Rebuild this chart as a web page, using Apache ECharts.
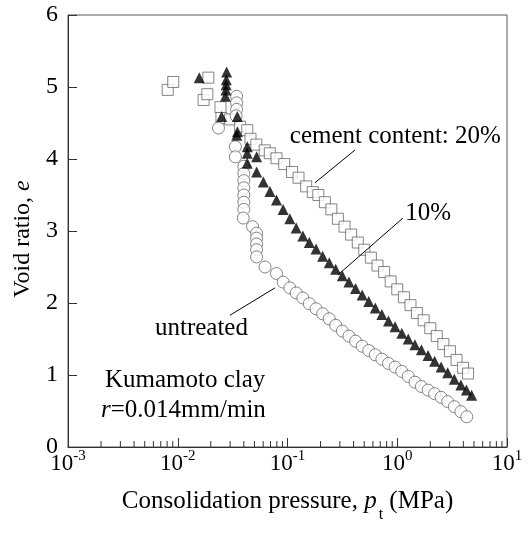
<!DOCTYPE html>
<html>
<head>
<meta charset="utf-8">
<script src="https://cdn.jsdelivr.net/npm/echarts@6/dist/echarts.min.js"></script>
<style>
  html, body { margin: 0; padding: 0; background: #fff; }
  #chart { width: 531px; height: 540px; }
</style>
</head>
<body>
<div id="chart"></div>
<script>
// Void ratio e against consolidation pressure p_t (MPa), Kumamoto clay, constant rate of strain

// cement content 20 %  [p_t (MPa), e]
const cement20 = [
  [0.0081, 4.96], [0.0091, 5.07], [0.0172, 4.82], [0.0186, 4.90], [0.0190, 5.13],
  [0.0245, 4.72], [0.0250, 4.57], [0.0300, 4.55], [0.0370, 4.45], [0.0430, 4.40],
  [0.0460, 4.28], [0.0520, 4.20], [0.0620, 4.12], [0.0690, 4.08],
  [0.0794, 4.01], [0.0933, 3.93], [0.110, 3.82], [0.126, 3.74], [0.148, 3.62],
  [0.170, 3.54], [0.191, 3.50], [0.219, 3.40], [0.251, 3.30], [0.288, 3.17],
  [0.331, 3.06], [0.380, 2.95], [0.437, 2.84], [0.501, 2.74], [0.575, 2.63],
  [0.661, 2.52], [0.759, 2.43], [0.871, 2.30], [1.00, 2.19], [1.15, 2.08],
  [1.32, 1.97], [1.51, 1.86], [1.74, 1.76], [2.00, 1.65], [2.29, 1.54],
  [2.63, 1.43], [3.02, 1.33], [3.47, 1.21], [3.98, 1.10], [4.42, 1.02]
];

// cement content 10 %
const cement10 = [
  [0.0157, 5.13], [0.0279, 5.21], [0.0277, 5.10], [0.0276, 5.03], [0.0275, 4.96],
  [0.0272, 4.87], [0.0251, 4.59], [0.0349, 4.59], [0.0350, 4.38], [0.0345, 4.33],
  [0.0430, 4.17], [0.0430, 4.08], [0.0430, 3.94], [0.0523, 4.03], [0.0523, 3.82],
  [0.0603, 3.68], [0.0692, 3.55], [0.0794, 3.43], [0.0912, 3.30], [0.105, 3.17],
  [0.120, 3.04], [0.138, 2.93], [0.158, 2.84], [0.182, 2.75], [0.209, 2.65],
  [0.240, 2.56], [0.275, 2.47], [0.316, 2.38], [0.363, 2.29], [0.417, 2.20],
  [0.479, 2.11], [0.550, 2.02], [0.631, 1.93], [0.724, 1.84], [0.832, 1.75],
  [0.955, 1.67], [1.10, 1.58], [1.26, 1.50], [1.45, 1.42], [1.66, 1.35],
  [1.91, 1.27], [2.19, 1.19], [2.51, 1.11], [2.88, 1.03], [3.31, 0.94],
  [3.80, 0.86], [4.27, 0.79], [4.76, 0.72]
];

// untreated
const untreated = [
  [0.0235, 4.43], [0.0344, 4.87], [0.0344, 4.78], [0.0344, 4.69], [0.0340, 4.60],
  [0.0335, 4.17], [0.0335, 4.03], [0.0400, 3.90], [0.0400, 3.80], [0.0400, 3.70],
  [0.0400, 3.60], [0.0400, 3.50], [0.0400, 3.40], [0.0400, 3.30], [0.0395, 3.18],
  [0.0480, 3.06], [0.0523, 2.97], [0.0523, 2.90], [0.0523, 2.82], [0.0523, 2.74],
  [0.0523, 2.64], [0.0624, 2.50],
  [0.0794, 2.41], [0.0912, 2.29], [0.105, 2.21], [0.120, 2.14], [0.138, 2.07],
  [0.158, 1.99], [0.182, 1.92], [0.209, 1.85], [0.240, 1.78], [0.275, 1.69],
  [0.316, 1.61], [0.363, 1.54], [0.417, 1.47], [0.479, 1.40], [0.550, 1.34],
  [0.631, 1.28], [0.724, 1.22], [0.832, 1.16], [0.955, 1.11], [1.10, 1.05],
  [1.26, 0.98], [1.45, 0.90], [1.66, 0.84], [1.91, 0.79], [2.19, 0.74],
  [2.51, 0.69], [2.88, 0.63], [3.31, 0.56], [3.80, 0.49], [4.30, 0.42]
];

// axis ticks
const xTickExponents = ['-3', '-2', '-1', '0', '1'];
const yTickLabels = ['0', '1', '2', '3', '4', '5', '6'];
const minorTickValues = [
  0.002, 0.003, 0.004, 0.005, 0.006, 0.007, 0.008, 0.009,
  0.02, 0.03, 0.04, 0.05, 0.06, 0.07, 0.08, 0.09,
  0.2, 0.3, 0.4, 0.5, 0.6, 0.7, 0.8, 0.9,
  2, 3, 4, 5, 6, 7, 8, 9
];

// annotation texts and their anchor points in data space
const noteTexts = ['cement content: 20%', '10%', 'untreated', 'Kumamoto clay', '{i|r}=0.014mm/min'];
const noteAnchors = [[0.105, 4.31], [1.18, 3.25], [0.0062, 1.65], [0.00217, 0.93], [0.0020, 0.51]];
const leaderLines = [
  [[0.412, 4.125], [0.178, 3.67]],
  [[1.127, 3.18], [0.288, 2.39]],
  [[0.0299, 1.83], [0.0769, 2.21]]
];

const SERIF = '"Liberation Serif", "Times New Roman", serif';
const chart = echarts.init(document.getElementById('chart'), null, { renderer: 'canvas' });

const option = {
  animation: false,
  backgroundColor: '#fff',
  grid: {
    left: 68, right: 24, top: 15, bottom: 93,
    show: true, borderColor: '#555', borderWidth: 1, backgroundColor: 'transparent'
  },
  xAxis: {
    type: 'log', logBase: 10, min: 0.001, max: 10,
    name: '{n|Consolidation pressure, }{i|p}{t|t}{n| (MPa)}',
    nameLocation: 'middle', nameGap: 42,
    nameTextStyle: {
      color: '#000',
      rich: {
        n: { fontFamily: SERIF, fontSize: 25, color: '#000', lineHeight: 34, verticalAlign: 'top' },
        i: { fontFamily: SERIF, fontSize: 25, color: '#000', fontStyle: 'italic', lineHeight: 34, verticalAlign: 'top' },
        t: { fontFamily: SERIF, fontSize: 16, color: '#000', lineHeight: 16, verticalAlign: 'bottom', padding: [0, 0, 0, 2] }
      }
    },
    axisLine: { lineStyle: { color: '#333', width: 1 } },
    axisTick: { inside: true, length: 9, lineStyle: { color: '#333' } },
    splitLine: { show: false },
    axisLabel: {
      margin: 2,
      showMinLabel: true, showMaxLabel: true,
      formatter: function (v) {
        const k = Math.round(Math.log10(v)) + 3;
        return '{b|10}{s|' + xTickExponents[k] + '}';
      },
      rich: {
        b: { fontFamily: SERIF, fontSize: 23, color: '#000', lineHeight: 26, verticalAlign: 'bottom' },
        s: { fontFamily: SERIF, fontSize: 15, color: '#000', lineHeight: 15, verticalAlign: 'top' }
      }
    }
  },
  yAxis: {
    type: 'value', min: 0, max: 6, interval: 1,
    name: '{n|Void ratio, }{i|e}',
    nameLocation: 'middle', nameRotate: 90, nameGap: 32,
    nameTextStyle: {
      padding: [0, 16, 0, 0],
      rich: {
        n: { fontFamily: SERIF, fontSize: 24, color: '#000' },
        i: { fontFamily: SERIF, fontSize: 24, color: '#000', fontStyle: 'italic' }
      }
    },
    axisLine: { show: true, lineStyle: { color: '#333', width: 1 } },
    axisTick: { show: true, inside: true, length: 9, lineStyle: { color: '#333' } },
    splitLine: { show: false },
    axisLabel: {
      margin: 10, fontFamily: SERIF, fontSize: 24, color: '#000',
      formatter: function (v) { return yTickLabels[Math.round(v)]; }
    }
  },
  series: [
    {
      // minor ticks of the logarithmic pressure axis
      type: 'custom',
      silent: true,
      data: minorTickValues.map(function (v) { return [v, 0]; }),
      renderItem: function (params, api) {
        const p = api.coord([api.value(0), 0]);
        return {
          type: 'line',
          shape: { x1: p[0], y1: p[1], x2: p[0], y2: p[1] - 6 },
          style: { stroke: '#333', lineWidth: 1 }
        };
      },
      z: 1
    },
    {
      name: 'cement content: 20%',
      type: 'scatter', data: cement20,
      symbol: 'rect', symbolSize: 11,
      itemStyle: { color: '#fff', borderColor: '#666', borderWidth: 1 },
      emphasis: { disabled: true }, z: 2
    },
    {
      name: 'untreated',
      type: 'scatter', data: untreated,
      symbol: 'circle', symbolSize: 12,
      itemStyle: { color: '#fff', borderColor: '#666', borderWidth: 1 },
      emphasis: { disabled: true }, z: 3
    },
    {
      name: '10%',
      type: 'scatter', data: cement10,
      symbol: 'triangle', symbolSize: [11, 11],
      itemStyle: { color: '#000' },
      emphasis: { disabled: true }, z: 4
    }
  ]
};

chart.setOption(option);

// annotations and leader lines placed through the axis scales
const toPx = function (pt) { return chart.convertToPixel({ gridIndex: 0 }, pt); };
const graphics = [];
noteTexts.forEach(function (txt, i) {
  const p = toPx(noteAnchors[i]);
  graphics.push({
    type: 'text', x: p[0], y: p[1], z: 10,
    style: {
      text: txt, fontFamily: SERIF, fontSize: 25, fill: '#000',
      align: 'left', verticalAlign: 'middle', textAlign: 'left', textVerticalAlign: 'middle',
      rich: { i: { fontFamily: SERIF, fontSize: 25, fontStyle: 'italic', fill: '#000', color: '#000' } }
    }
  });
});
leaderLines.forEach(function (seg) {
  const a = toPx(seg[0]), b = toPx(seg[1]);
  graphics.push({
    type: 'line', z: 10,
    shape: { x1: a[0], y1: a[1], x2: b[0], y2: b[1] },
    style: { stroke: '#000', lineWidth: 1 }
  });
});
chart.setOption({ graphic: graphics });
</script>
</body>
</html>
